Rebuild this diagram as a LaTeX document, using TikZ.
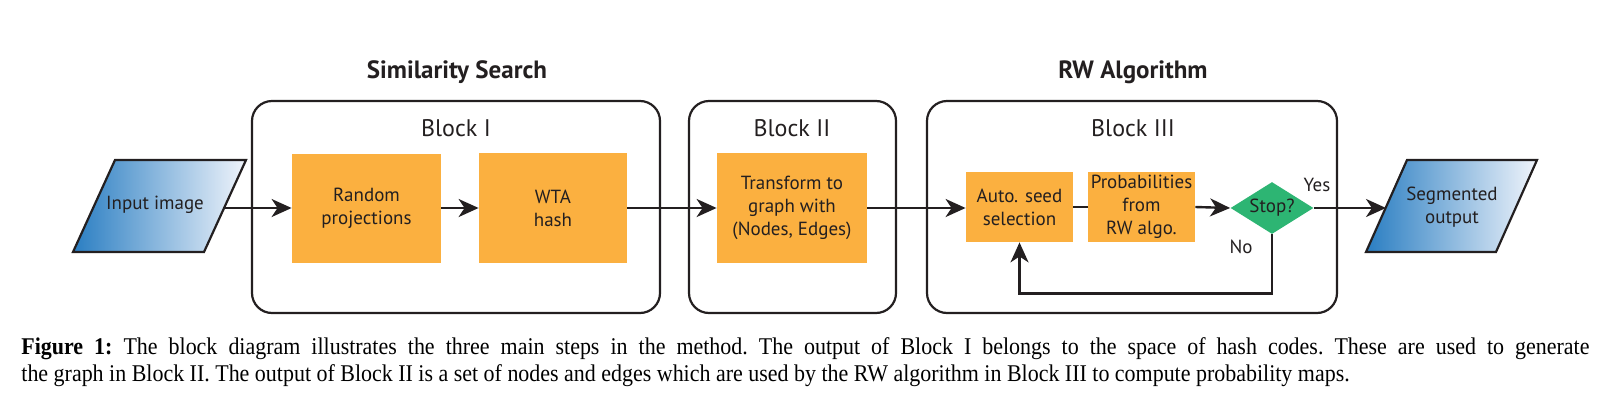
\documentclass[tikz,border=0pt]{standalone}
\usepackage{fontspec}
\setmainfont{Liberation Serif}
\newfontfamily\diagfont{PT Sans}
\newfontfamily\capfont[FakeStretch=0.915]{Liberation Serif}
\usetikzlibrary{arrows.meta}
\usetikzlibrary{shapes.geometric}
\usetikzlibrary{positioning}
\definecolor{boxorange}{HTML}{FBB040}
\definecolor{stopgreen}{HTML}{2DB573}
\definecolor{ioblue}{HTML}{2A7EC2}
\definecolor{iolight}{HTML}{F0F4FB}
\definecolor{inkgray}{HTML}{231F20}

\begin{document}
\begin{tikzpicture}[x=0.5pt,y=-0.5pt,font=\diagfont,
  blockframe/.style={draw=inkgray,line width=1.1pt,rounded corners=10pt,minimum height=106pt},
  blocktitle/.style={text=inkgray,font=\diagfont\fontsize{12}{14}\selectfont},
  headline/.style={text=inkgray,font=\diagfont\bfseries\fontsize{12.5}{14}\selectfont},
  stepbox/.style={fill=boxorange,text=inkgray,align=center,inner sep=0pt,
    font=\diagfont\fontsize{9.5}{11.6}\selectfont},
  decision/.style={diamond,fill=stopgreen,text=inkgray,inner sep=0pt,aspect=1.6,
    minimum width=41.5pt,minimum height=26pt,font=\diagfont\fontsize{9.5}{11}\selectfont},
  ioshape/.style={draw=inkgray,line width=1.1pt,left color=ioblue,right color=iolight},
  iotext/.style={align=center,text=inkgray,inner sep=0pt,font=\diagfont\fontsize{9.5}{11.6}\selectfont},
  flow/.style={draw=inkgray,line width=1.2pt,-{Stealth[length=10pt,width=9pt,inset=3pt]}},
  plainflow/.style={draw=inkgray,line width=1.2pt},
  flowlabel/.style={text=inkgray,font=\diagfont\fontsize{9.5}{11}\selectfont},
  captionline/.style={anchor=west,inner sep=0pt,text=black,font=\capfont\frenchspacing\fontsize{12}{13.5}\selectfont}]
\useasboundingbox (0,0) rectangle (1618,402);

% frames of the three blocks
\node[blockframe,minimum width=204pt] (blockI) at (456,207) {};
\node[blockframe,minimum width=103.5pt] (blockII) at (792.5,207) {};
\node[blockframe,minimum width=205pt] (blockIII) at (1132,207) {};
\node[blocktitle] (titleI) at (456,128) {Block I};
\node[blocktitle] (titleII) at (792,128) {Block II};
\node[blocktitle] (titleIII) at (1133,128) {Block III};
\node[headline] (simsearch) at (457,72) {Similarity Search};
\node[headline] (rwalgo) at (1133,72) {RW Algorithm};

% input and output parallelograms
\path[ioshape] (73,252) -- (204,252) -- (246,160) -- (115,160) -- cycle;
\node[iotext] (inimg) at (155,205) {Input image};
\coordinate (inimg-e) at (224,208);
\path[ioshape] (1366,252) -- (1496,252) -- (1537,160) -- (1407,160) -- cycle;
\node[iotext] (segout) at (1452,207) {Segmented\\output};
\coordinate (segout-w) at (1386,208);

% steps
\node[stepbox,minimum width=74.5pt,minimum height=54.5pt] (randproj) at (366.5,208) {Random\\projections};
\node[stepbox,minimum width=74pt,minimum height=55pt] (wtahash) at (553,208) {WTA\\hash};
\node[stepbox,minimum width=75pt,minimum height=55pt] (tograph) at (792,208) {Transform to\\graph with\\(Nodes, Edges)};
\node[stepbox,minimum width=53.5pt,minimum height=35pt] (autoseed) at (1019.5,207) {Auto. seed\\selection};
\node[stepbox,minimum width=53.5pt,minimum height=35pt] (probrw) at (1141.5,207) {Probabilities\\from\\RW algo.};
\node[decision] (stop) at (1272,208) {Stop?};

% connectors
\draw[flow] (inimg-e) -- (randproj.west);
\draw[flow] (randproj.east) -- (wtahash.west);
\draw[flow] (wtahash.east) -- (tograph.west);
\draw[flow] (tograph.east) -- (autoseed.west |- tograph.east);
\draw[plainflow] (autoseed.east) -- (probrw.west);
\draw[flow] (probrw.east) -- (stop.west);
\draw[flow] (stop.east) -- (segout-w);
\draw[flow] (stop.south) -- ++(0,59) -| (autoseed.south);
\node[flowlabel] (yeslbl) at (1317,185) {Yes};
\node[flowlabel] (nolbl) at (1241,247) {No};

% caption
\node[captionline] (capA) at (21,349) {\makebox[784pt][s]{\textbf{Figure 1:} The block diagram illustrates the three main steps in the method. The output of Block I belongs to the space of hash codes. These are used to generate}};
\node[captionline] (capB) at (21,376) {the graph in Block II. The output of Block II is a set of nodes and edges which are used by the RW algorithm in Block III to compute probability maps.};
\end{tikzpicture}
\end{document}
